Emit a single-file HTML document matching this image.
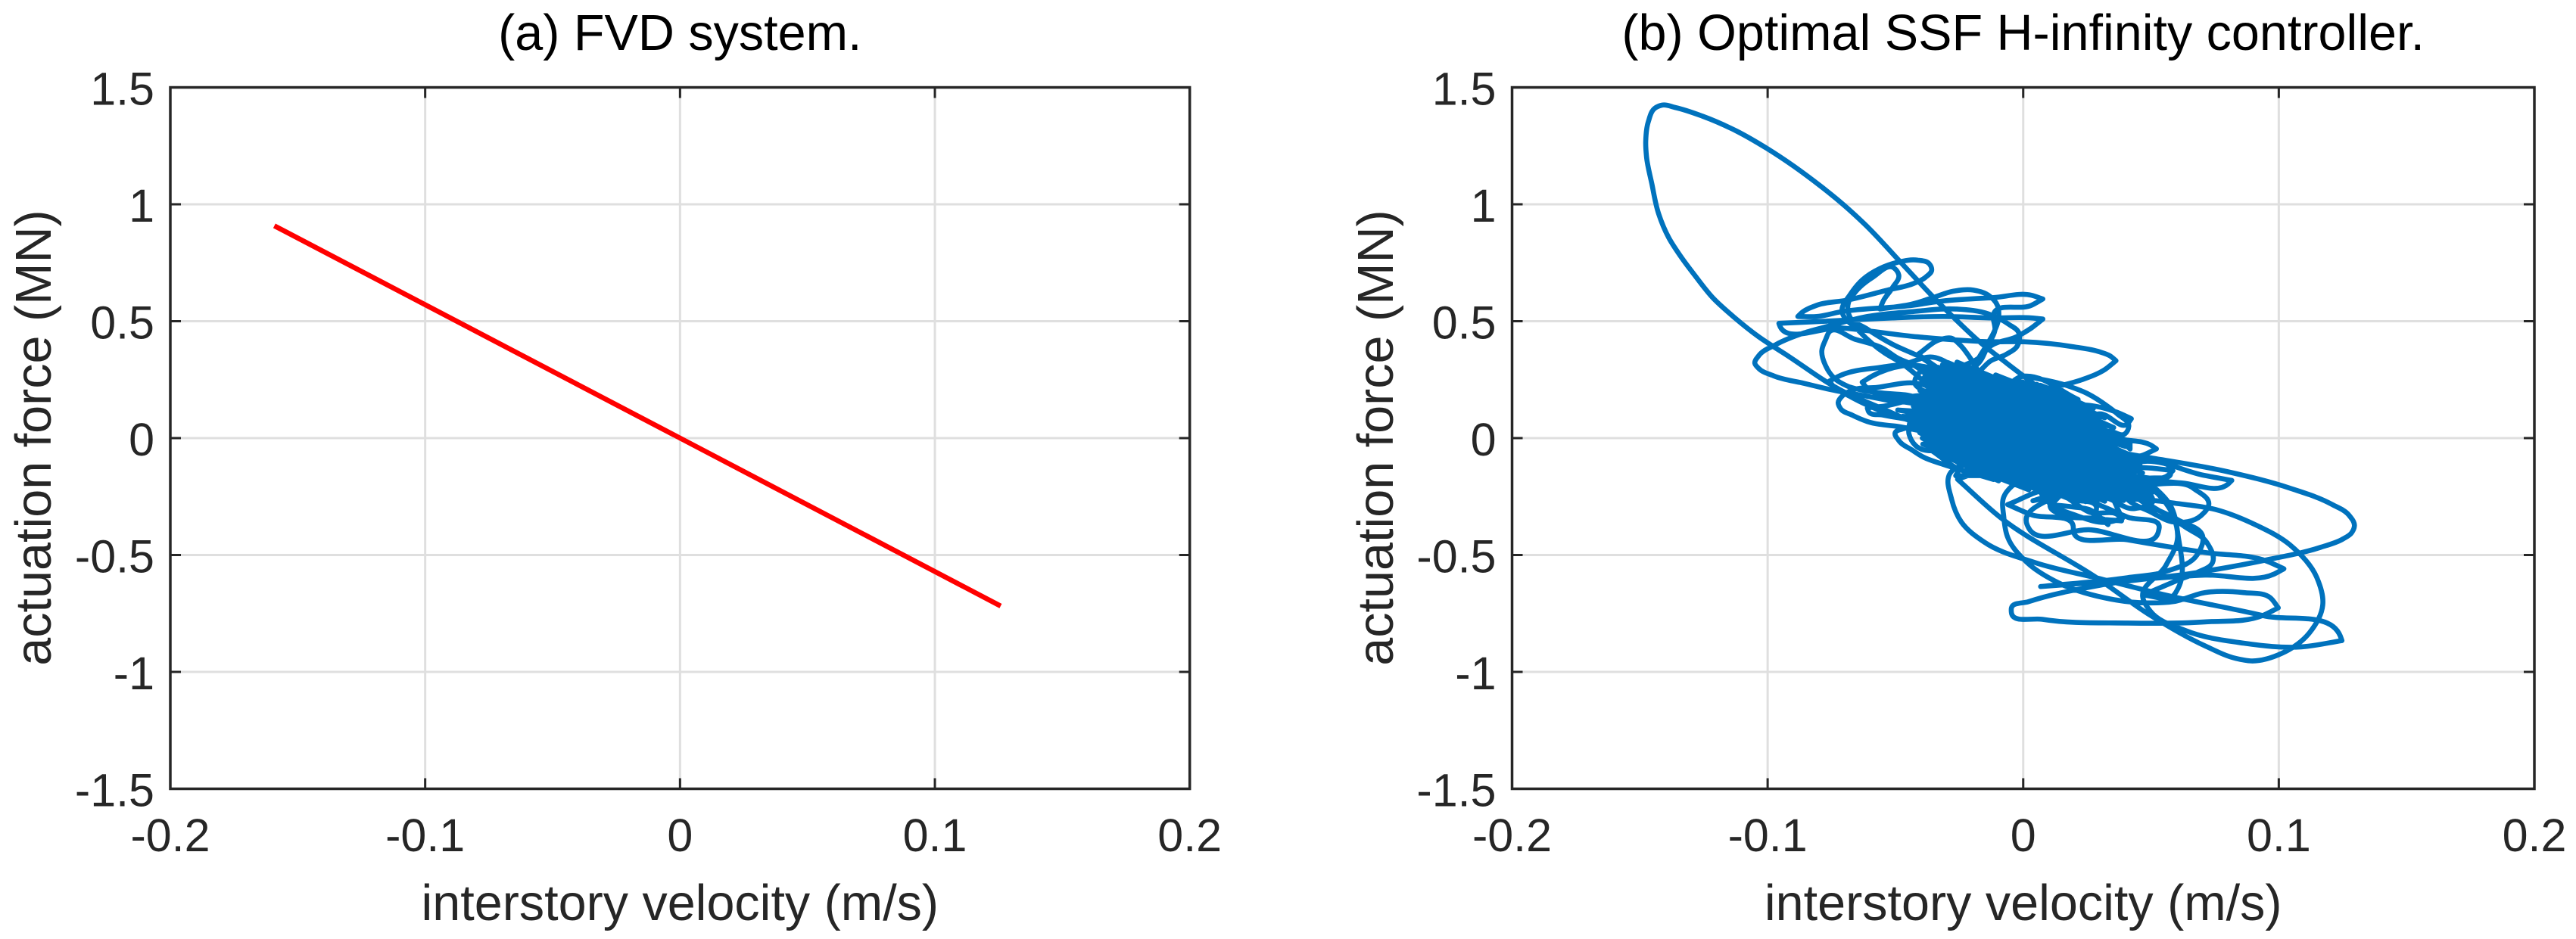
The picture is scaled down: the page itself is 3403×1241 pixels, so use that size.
<!DOCTYPE html>
<html lang="en">
<head>
<meta charset="utf-8">
<title>Actuation force vs interstory velocity</title>
<style>
html,body{margin:0;padding:0;background:#fff;width:3403px;height:1241px;overflow:hidden}
svg{display:block}
text{font-family:"Liberation Sans",Arial,sans-serif}
</style>
</head>
<body>
<svg id="fig" xmlns="http://www.w3.org/2000/svg" width="3403" height="1241" viewBox="0 0 3403 1241">
  <rect x="0" y="0" width="3403" height="1241" fill="#fff"/>
  <text x="898.3" y="66" font-size="66.5" text-anchor="middle" fill="#000">(a) FVD system.</text>
  <text x="2672.7" y="66" font-size="66.5" text-anchor="middle" fill="#000">(b) Optimal SSF H-infinity controller.</text>
  <text x="898.3" y="1216" font-size="66.5" text-anchor="middle" fill="#262626">interstory velocity (m/s)</text>
  <text x="2672.7" y="1216" font-size="66.5" text-anchor="middle" fill="#262626">interstory velocity (m/s)</text>
  <text transform="translate(67 578.5) rotate(-90)" font-size="66.5" text-anchor="middle" fill="#262626">actuation force (MN)</text>
  <text transform="translate(1840 578.5) rotate(-90)" font-size="66.5" text-anchor="middle" fill="#262626">actuation force (MN)</text>
  <g id="left-chart"></g>
  <g id="right-chart"></g>
</svg>
<script>
const xTickValues = [-0.2, -0.1, 0, 0.1, 0.2];
const xTickLabels = ["-0.2", "-0.1", "0", "0.1", "0.2"];
const yTickValues = [-1.5, -1, -0.5, 0, 0.5, 1, 1.5];
const yTickLabels = ["-1.5", "-1", "-0.5", "0", "0.5", "1", "1.5"];

const fvdVelocity = [-0.1592, 0, 0.1258];
const fvdForce = [0.908, 0, -0.718];

const coreScribble = [[.0052,.230],[.0185,.165],[-.0028,.250],[.0221,.128],[-.0108,.270],[.0247,.095],[-.0259,.325],[.0274,.063],[-.0295,.323],[.0304,.029],[-.0316,.314],[.0327,-.002],[-.0333,.303],[.0342,-.029],[-.0354,.294],[.0354,-.054],[-.0357,.276],[.0369,-.081],[-.0345,.250],[.0378,-.105],[-.0342,.230],[.0387,-.128],[-.0339,.209],[.0396,-.152],[-.0336,.188],[.0431,-.189],[-.0333,.167],[.0467,-.226],[-.0330,.146],[.0484,-.254],[-.0327,.125],[.0452,-.258],[-.0324,.105],[.0422,-.262],[-.0330,.088],[.0393,-.267],[-.0319,.063],[.0363,-.272],[-.0304,.036],[.0319,-.270],[-.0298,.014],[.0289,-.275],[-.0292,-.009],[.0244,-.272],[-.0289,-.029],[.0185,-.262],[-.0280,-.053],[.0126,-.252],[-.0274,-.076],[.0022,-.221],[-.0259,-.102],[-.0096,-.183]];

const coreLeftEdge = [[-.0369,.272],[-.0215,.172],[-.0375,.249],[-.0215,.149],[-.0385,.227],[-.0215,.127],[-.0404,.204],[-.0215,.104],[-.0415,.181],[-.0215,.081],[-.0422,.159],[-.0215,.059],[-.0430,.136],[-.0215,.036],[-.0418,.113],[-.0215,.013],[-.0425,.091],[-.0215,-.009],[-.0420,.068],[-.0215,-.032],[-.0412,.045],[-.0215,-.055],[-.0405,.023],[-.0215,-.077],[-.0395,.000],[-.0215,-.100],[-.0385,-.023],[-.0215,-.123],[-.0370,-.045],[-.0215,-.145]];

const coreRightEdge = [[.0008,.265],[.0215,.165],[.0067,.226],[.0274,.126],[.0112,.187],[.0319,.087],[.0147,.145],[.0354,.045],[.0171,.106],[.0378,.006],[.0194,.064],[.0401,-.036],[.0215,.026],[.0422,-.074],[.0236,-.013],[.0443,-.113],[.0260,-.049],[.0467,-.149],[.0283,-.091],[.0490,-.191],[.0304,-.130],[.0511,-.230],[.0274,-.146],[.0481,-.246],[.0230,-.162],[.0437,-.262],[.0171,-.169],[.0378,-.269]];

const bigLoop = [[-.0434,.070],[-.0560,.130],[-.070,.197],[-.0924,.354],[-.1037,.435],[-.113,.516],[-.1216,.602],[-.128,.689],[-.134,.777],[-.1387,.857],[-.1427,.961],[-.1453,1.087],[-.1474,1.204],[-.1477,1.272],[-.1467,1.353],[-.1441,1.411],[-.1414,1.424],[-.1361,1.414],[-.1255,1.377],[-.1123,1.314],[-.1003,1.239],[-.0898,1.163],[-.0793,1.078],[-.0701,.996],[-.0621,.916],[-.0476,.748],[-.0342,.592],[-.0277,.521],[-.0170,.411],[-.0064,.320],[.004,.233]];

const upperArcs = [[-.0264,.169],[-.0432,.314],[-.0491,.342],[-.0551,.385],[-.0659,.423],[-.0758,.455],[-.0773,.422],[-.0788,.374],[-.0773,.309],[-.0738,.255],[-.0689,.223],[-.0610,.201],[-.0462,.185],[-.0314,.169]];

const tipStrip = [[-.0264,.288],[-.0175,.342],[-.0126,.395],[-.0027,.433],[.0032,.471],[.0077,.509],[.0032,.514],[-.0116,.514],[-.0314,.520],[-.0511,.514],[-.0610,.509],[-.0808,.498],[-.0956,.491],[-.0954,.484],[-.0709,.471],[-.0412,.433],[-.0116,.412],[.0003,.412],[.0200,.390],[.0299,.369],[.0339,.352],[.0363,.331],[.0319,.293],[.0230,.250],[.0161,.228],[.0072,.207],[-.002,.18]];

const smallArch = [[-.0264,.255],[-.0412,.358],[-.0323,.422],[-.0284,.428],[-.0244,.395],[-.0210,.347],[-.0165,.266]];

const leftLobeA = [[-.0235,.288],[-.0363,.347],[-.0462,.318],[-.0551,.304],[-.0709,.271],[-.0758,.244],[-.0748,.228],[-.0679,.179],[-.0600,.136],[-.0462,.082],[-.0314,.039]];

const leftLobeB = [[-.0235,.266],[-.0472,.309],[-.0590,.266],[-.0630,.239],[-.0610,.212],[-.0511,.174],[-.0314,.136]];

const leftLobeC = [[-.0215,.104],[-.0412,.234],[-.0570,.217],[-.0679,.201],[-.0709,.179],[-.0724,.152],[-.0714,.125],[-.0669,.098],[-.0610,.071],[-.0491,.050],[-.0314,.039]];

const leftLobeD = [[-.0264,.082],[-.0314,.152],[-.0551,.136],[-.0610,.129],[-.0605,.113],[-.0551,.099],[-.0462,.082],[-.0264,.039]];

const wideLobe = [[-.0314,.125],[-.0511,.158],[-.0610,.179],[-.0748,.206],[-.0857,.234],[-.0976,.266],[-.1035,.298],[-.1050,.320],[-.1035,.352],[-.0966,.401],[-.0857,.450],[-.0768,.477],[-.0610,.520],[-.0432,.541],[-.0264,.552],[-.0136,.531],[-.0057,.487],[-.0017,.450],[-.0022,.396],[-.0067,.358],[-.0126,.331],[-.0185,.277]];

const topInnerArc = [[-.0264,.266],[-.0412,.352],[-.0511,.401],[-.0610,.466],[-.0679,.520],[-.0684,.579],[-.0659,.622],[-.0590,.687],[-.0506,.728],[-.0487,.698],[-.0511,.644],[-.0546,.590],[-.0561,.552],[-.0432,.574],[-.0353,.601],[-.0274,.628],[-.0195,.633],[-.0136,.611],[-.0101,.568],[-.0096,.514],[-.0116,.450],[-.0141,.401],[-.0185,.320],[-.0215,.212]];

const topOuterLoop = [[-.0235,.190],[-.0491,.331],[-.0541,.363],[-.0640,.455],[-.0709,.552],[-.0679,.611],[-.0630,.676],[-.0561,.725],[-.0491,.752],[-.0412,.761],[-.0368,.746],[-.0358,.720],[-.0383,.687],[-.0432,.660],[-.0531,.633],[-.0689,.590],[-.0808,.568],[-.0867,.536],[-.0882,.520],[-.0808,.520],[-.0709,.541],[-.0432,.568],[-.0333,.584],[-.0116,.601],[.0032,.611],[.0077,.595],[.0032,.568],[-.0116,.530],[-.0111,.460],[-.0136,.401],[-.0185,.310]];

const leftHooks = [[-.0314,.298],[-.0383,.266],[-.0393,.244],[-.0358,.223],[-.0294,.190],[-.0314,.277],[-.0417,.266],[-.0424,.234],[-.0403,.210],[-.0304,.185]];

const leftFringe = [[-.0294,.125],[-.0551,.169],[-.0294,.136],[-.0294,.082],[-.0491,.120],[-.0264,.104],[-.0284,.039],[-.0472,.093],[-.0284,.072],[-.0284,-.004],[-.0442,.082],[-.0447,.018],[-.0422,-.031],[-.0314,-.047],[-.0235,.018],[-.0412,.050],[-.0472,.039],[-.0501,.023],[-.0487,-.010],[-.0432,-.053],[-.0393,-.080],[-.0314,-.112],[-.0215,-.145],[-.0116,-.177],[-.0274,-.069],[-.0393,-.026],[-.0274,-.036],[-.0235,-.091],[-.0264,-.161],[-.0116,-.161],[.0082,-.177]];

const lowerArc = [[.0106,-.046],[-.0197,-.100],[-.0288,-.154],[-.0280,-.262],[-.0242,-.359],[-.0151,-.446],[.0045,-.532],[.0302,-.602],[.0559,-.672],[.0937,-.759],[.1240,-.845],[.1247,-.866],[.1088,-.893],[.0862,-.877],[.0635,-.823],[.0499,-.742],[.0468,-.683],[.0559,-.543],[.0604,-.424],[.0589,-.338],[.0529,-.241],[.0408,-.154]];

const bottomLoop = [[-.0046,-.100],[-.0257,-.176],[-.0091,-.338],[.0287,-.597],[.0499,-.759],[.0710,-.888],[.0831,-.942],[.0892,-.953],[.1013,-.920],[.1119,-.834],[.1172,-.715],[.1149,-.597],[.1043,-.456],[.0907,-.370],[.0771,-.311],[.0559,-.273],[.0332,-.230]];

const rightEllipse = [[.0181,-.046],[.0408,-.068],[.0468,-.079],[.0801,-.144],[.1043,-.214],[.1209,-.284],[.1275,-.330],[.1296,-.375],[.1285,-.405],[.1250,-.432],[.1164,-.467],[.0952,-.521],[.0680,-.575],[.0302,-.629],[.0020,-.700],[-.0046,-.726],[-.0046,-.748],[.0075,-.775],[.0408,-.791],[.0710,-.786],[.0937,-.759],[.0998,-.726],[.0967,-.683],[.0862,-.661],[.0710,-.661],[.0589,-.699],[.0484,-.705],[.0317,-.683],[.0136,-.618],[.0015,-.532],[-.0061,-.424],[-.0076,-.338],[-.0076,-.251],[-.0030,-.192],[.0106,-.133]];

const lowerTipA = [[.0196,-.208],[.0015,-.370],[.0022,-.386],[.0257,-.392],[.0529,-.400],[.0532,-.383],[.0408,-.338],[.0317,-.295],[.0106,-.219],[-.0061,-.284],[.0030,-.327],[.0196,-.381]];

const lowerTipB = [[.0196,-.392],[.0408,-.435],[.0710,-.489],[.0952,-.526],[.1020,-.559],[.0983,-.581],[.0710,-.586],[.0408,-.608],[.0068,-.635],[.0408,-.597],[.0559,-.570],[.0680,-.500],[.0703,-.424],[.0604,-.349],[.0484,-.284]];

const rightColumn = [[.0408,-.230],[.0635,-.381],[.0718,-.446],[.0741,-.532],[.0680,-.575],[.0604,-.608],[.0468,-.672],[.0589,-.672],[.0607,-.640],[.0607,-.424],[.0574,-.284],[.0521,-.219],[.0408,-.143]];

const rightSmallLoop = [[.0408,-.154],[.0665,-.214],[.0726,-.284],[.0695,-.332],[.0589,-.359],[.0499,-.316],[.0408,-.262]];

const rightTipA = [[.0348,-.133],[.0468,-.100],[.0710,-.160],[.0816,-.181],[.0801,-.197],[.0620,-.192],[.0408,-.165],[.0332,-.154]];

const rightTipB = [[.0332,-.003],[.0408,-.009],[.0499,-.030],[.0521,-.046],[.0468,-.073],[.0378,-.090]];

const rightTipC = [[.0332,-.111],[.0574,-.133],[.0577,-.149],[.0499,-.171],[.0408,-.160]];

const lowerCurls = [[.0196,-.230],[.0106,-.246],[.0038,-.268],[.0106,-.252],[.0106,-.262],[.0106,-.295],[.0151,-.327],[.0272,-.343],[.0385,-.354],[.0378,-.338],[.0257,-.316],[.0181,-.262],[.0287,-.300],[.0272,-.343],[.0325,-.354],[.0332,-.370],[.0257,-.305]];

const bottomEllipses = [[.0200,-.295],[.0111,-.285],[.0151,-.241],[.0319,-.252],[.0438,-.301],[.0507,-.263],[.0497,-.241],[.0418,-.209],[.0319,-.177],[.0378,-.322],[.0388,-.344],[.0329,-.360],[.0200,-.328],[.0111,-.285]];

const rightFringe = [[.0102,.115],[.0200,.142],[.0279,.137],[.0368,.110],[.0423,.083],[.0408,.061],[.0299,.104],[.0250,.093],[.0141,.126],[.0003,.266],[.0161,.228],[.0250,.191],[.0329,.137],[.0368,.104],[.0413,.050],[.0398,.018],[.0339,.029],[.0279,.018],[.0349,-.025],[.0418,-.014],[.0418,-.047],[.0368,.006],[.0329,-.079],[.0428,-.090],[.0457,-.112],[.0349,-.123],[.0497,-.128],[.0586,-.139],[.0566,-.160],[.0457,-.166],[.0398,-.155],[.0447,-.123],[.0299,-.177],[.0497,-.198]];

const ssfTrace = [].concat(coreScribble, coreLeftEdge, coreRightEdge, bigLoop, upperArcs, tipStrip, smallArch, leftLobeA, leftLobeB, leftLobeC, leftLobeD, wideLobe, topInnerArc, topOuterLoop, leftHooks, leftFringe, lowerArc, bottomLoop, rightEllipse, lowerTipA, lowerTipB, rightColumn, rightSmallLoop, rightTipA, rightTipB, rightTipC, lowerCurls, bottomEllipses, rightFringe);

const NS = "http://www.w3.org/2000/svg";
const plotTop = 115.5, plotBottom = 1042.5;

function node(parent, tag, props) {
  const el = document.createElementNS(NS, tag);
  for (const key in props) el.setAttribute(key, props[key]);
  parent.appendChild(el);
  return el;
}

function unit(dx, dy) {
  const len = Math.hypot(dx, dy) || 1;
  return [dx / len, dy / len];
}

function smoothPath(pts) {
  let d = "M" + pts[0][0].toFixed(1) + " " + pts[0][1].toFixed(1);
  const tanIn = [], tanOut = [];
  for (let i = 0; i < pts.length; i++) {
    const prev = pts[Math.max(i - 1, 0)], cur = pts[i], next = pts[Math.min(i + 1, pts.length - 1)];
    const a = unit(cur[0] - prev[0], cur[1] - prev[1]);
    const b = unit(next[0] - cur[0], next[1] - cur[1]);
    if (i === 0 || i === pts.length - 1 || a[0] * b[0] + a[1] * b[1] < -0.1) {
      tanIn[i] = i === 0 ? b : a;
      tanOut[i] = i === pts.length - 1 ? a : b;
    } else {
      const l1 = Math.hypot(cur[0] - prev[0], cur[1] - prev[1]);
      const l2 = Math.hypot(next[0] - cur[0], next[1] - cur[1]);
      const t = unit(a[0] * l2 + b[0] * l1, a[1] * l2 + b[1] * l1);
      tanIn[i] = t;
      tanOut[i] = t;
    }
  }
  for (let i = 1; i < pts.length; i++) {
    const p = pts[i - 1], q = pts[i];
    const k = Math.hypot(q[0] - p[0], q[1] - p[1]) / 3;
    d += "C" + (p[0] + tanOut[i - 1][0] * k).toFixed(1) + " " + (p[1] + tanOut[i - 1][1] * k).toFixed(1) +
         " " + (q[0] - tanIn[i][0] * k).toFixed(1) + " " + (q[1] - tanIn[i][1] * k).toFixed(1) +
         " " + q[0].toFixed(1) + " " + q[1].toFixed(1);
  }
  return d;
}

function buildAxes(group, prefix, left, right) {
  const sx = v => left + (v + 0.2) / 0.4 * (right - left);
  const sy = f => plotBottom - (f + 1.5) / 3 * (plotBottom - plotTop);

  xTickValues.forEach(function (v, i) {
    if (i === 0 || i === xTickValues.length - 1) return;
    const g = node(group, "line", { x1: sx(v), x2: sx(v), y1: plotTop, y2: plotBottom, stroke: "#dfdfdf", "stroke-width": 3 });
    
    
  });
  yTickValues.forEach(function (f, i) {
    if (i === 0 || i === yTickValues.length - 1) return;
    const g = node(group, "line", { x1: left, x2: right, y1: sy(f), y2: sy(f), stroke: "#dfdfdf", "stroke-width": 3 });
    
    
  });
  return { sx, sy };
}

function finishAxes(group, prefix, left, right, sx, sy) {
  xTickValues.forEach(function (v, i) {
    const bottomTick = node(group, "line", { x1: sx(v), x2: sx(v), y1: plotBottom, y2: plotBottom - 14, stroke: "#262626", "stroke-width": 3 });
    
    
    const topTick = node(group, "line", { x1: sx(v), x2: sx(v), y1: plotTop, y2: plotTop + 14, stroke: "#262626", "stroke-width": 3 });
    
    
    const label = node(group, "text", { x: sx(v), y: 1125, "font-size": 61, "text-anchor": "middle", fill: "#262626" });
    label.textContent = xTickLabels[i];
    
    
  });
  yTickValues.forEach(function (f, i) {
    const leftTick = node(group, "line", { x1: left, x2: left + 14, y1: sy(f), y2: sy(f), stroke: "#262626", "stroke-width": 3 });
    
    
    const rightTick = node(group, "line", { x1: right, x2: right - 14, y1: sy(f), y2: sy(f), stroke: "#262626", "stroke-width": 3 });
    
    
    const label = node(group, "text", { x: left - 21, y: sy(f) + 23, "font-size": 61, "text-anchor": "end", fill: "#262626" });
    label.textContent = yTickLabels[i];
    
    
  });
  const box = node(group, "rect", { x: left, y: plotTop, width: right - left, height: plotBottom - plotTop, fill: "none", stroke: "#262626", "stroke-width": 3.5 });
  
  
}

const leftGroup = document.getElementById("left-chart");
const leftL = 225, leftR = 1571.7;
const la = buildAxes(leftGroup, "left", leftL, leftR);
const fvdPoints = fvdVelocity.map((v, i) => la.sx(v).toFixed(1) + "," + la.sy(fvdForce[i]).toFixed(1)).join(" ");
const fvdLine = node(leftGroup, "polyline", { points: fvdPoints, fill: "none", stroke: "#ff0000", "stroke-width": 6.6, "stroke-linejoin": "round" });


finishAxes(leftGroup, "left", leftL, leftR, la.sx, la.sy);

const rightGroup = document.getElementById("right-chart");
const rightL = 1997.5, rightR = 3348;
const ra = buildAxes(rightGroup, "right", rightL, rightR);
const ssfPoints = ssfTrace.map(p => [ra.sx(p[0]), ra.sy(p[1])]);
const ssfLine = node(rightGroup, "path", { d: smoothPath(ssfPoints), fill: "none", stroke: "#0072BD", "stroke-width": 6.6, "stroke-linejoin": "round", "stroke-linecap": "round" });


finishAxes(rightGroup, "right", rightL, rightR, ra.sx, ra.sy);
</script>
</body>
</html>
